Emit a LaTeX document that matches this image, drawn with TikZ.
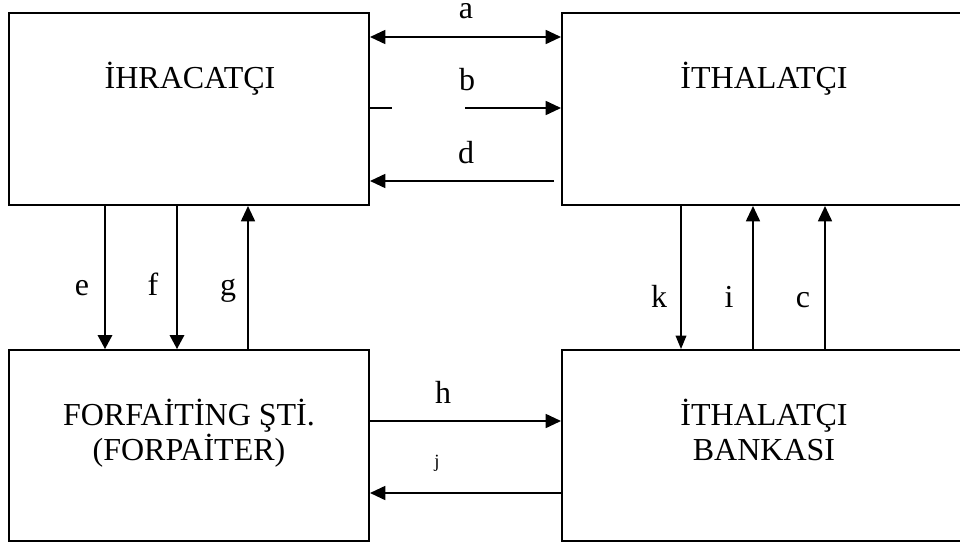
\documentclass[tikz,border=0pt]{standalone}
\usepackage{fontspec}
\setmainfont{Liberation Serif}
\usepackage{tikz}
\usetikzlibrary{arrows.meta}

\begin{document}
\begin{tikzpicture}[x=0.75pt,y=0.75pt,yscale=-1,
  kutu/.style={draw, line width=1.5pt, anchor=north west, inner sep=0pt},
  yazi/.style={anchor=base, font=\fontsize{24}{27}\selectfont},
  harf/.style={anchor=base, inner sep=0pt, font=\fontsize{24}{27}\selectfont},
  ok/.style={line width=1.3pt, -{Triangle[length=11.5pt,width=10.5pt]}},
  ciftok/.style={line width=1.3pt, {Triangle[length=11.5pt,width=10.5pt]}-{Triangle[length=11.5pt,width=10.5pt]}},
  ince/.style={line width=1pt, -{Triangle[length=10.5pt,width=11pt]}},
  kucukok/.style={line width=1pt, -{Triangle[length=10pt,width=8pt]}}]
\useasboundingbox (0,0) rectangle (960,542);

%Shape: Rectangle
\node (ihr) [kutu, minimum width=270pt, minimum height=144pt] at (8,12) {};
%Shape: Rectangle
\node (ith) [kutu, minimum width=304.5pt, minimum height=144pt] at (561,12) {};
%Shape: Rectangle
\node (forf) [kutu, minimum width=270pt, minimum height=143.25pt] at (8,349) {};
%Shape: Rectangle
\node (bank) [kutu, minimum width=304.5pt, minimum height=143.25pt] at (561,349) {};

% Text Node
\node (ihrtxt) [yazi] at (190,89) {İHRACATÇI};
% Text Node
\node (ithtxt) [yazi] at (764,89) {İTHALATÇI};
% Text Node
\node (forftxt) [yazi] at (189,425) {FORFAİTİNG ŞTİ.};
% Text Node
\node (forptxt) [yazi] at (189,460) {(FORPAİTER)};
% Text Node
\node (banktxt) [yazi] at (764,425) {İTHALATÇI};
% Text Node
\node (bankstxt) [yazi] at (764,460) {BANKASI};

%Straight Lines
\draw [ciftok] (ihr.east |- 0,37) -- (ith.west |- 0,37);
\draw [line width=1.3pt] (ihr.east |- 0,108) -- (392,108);
\coordinate (bbas) at (465,108);
\draw [ok] (bbas) -- (ith.west |- 0,108);
\coordinate (dbas) at (554,181);
\draw [ok] (dbas) -- (ihr.east |- 0,181);

\draw [ince] (ihr.south -| 105,0) -- (forf.north -| 105,0);
\draw [ince] (ihr.south -| 177,0) -- (forf.north -| 177,0);
\draw [ok] (forf.north -| 248,0) -- (ihr.south -| 248,0);

\draw [kucukok] (ith.south -| 681,0) -- (bank.north -| 681,0);
\draw [ok] (bank.north -| 753,0) -- (ith.south -| 753,0);
\draw [ok] (bank.north -| 825,0) -- (ith.south -| 825,0);

\draw [ok] (forf.east |- 0,421) -- (bank.west |- 0,421);
\draw [ok] (bank.west |- 0,493) -- (forf.east |- 0,493);

% Text Node
\node (la) [harf] at (466,19) {a};
% Text Node
\node (lb) [harf] at (467,91) {b};
% Text Node
\node (ld) [harf] at (466,163) {d};
% Text Node
\node (le) [harf] at (82,295) {e};
% Text Node
\node (lf) [harf] at (153,295) {f};
% Text Node
\node (lg) [harf] at (228,295) {g};
% Text Node
\node (lk) [harf] at (659,307) {k};
% Text Node
\node (li) [harf] at (729,307) {i};
% Text Node
\node (lc) [harf] at (803,307) {c};
% Text Node
\node (lh) [harf] at (443,403) {h};
% Text Node
\node (lj) [anchor=base, inner sep=0pt, font=\fontsize{14}{16}\selectfont] at (437,467) {j};

\end{tikzpicture}
\end{document}
